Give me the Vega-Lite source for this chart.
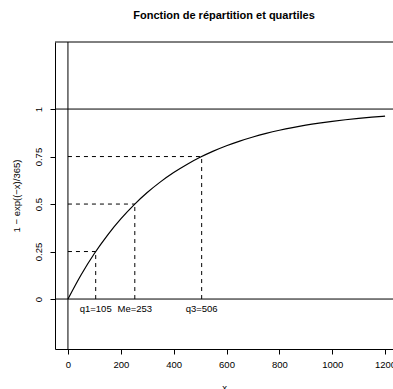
{
  "$schema": "https://vega.github.io/schema/vega-lite/v6.json",
  "width": 338,
  "height": 307,
  "autosize": {"type": "none"},
  "padding": {"left": 55, "top": 42, "right": 0, "bottom": 40},
  "background": "white",
  "title": {
    "text": "Fonction de répartition et quartiles",
    "font": "Liberation Sans",
    "fontSize": 11,
    "fontWeight": "bold",
    "color": "black",
    "anchor": "middle",
    "frame": "group",
    "offset": 21
  },
  "config": {
    "view": {"stroke": null},
    "axis": {
      "grid": false,
      "domainColor": "black",
      "tickColor": "black",
      "tickSize": 5,
      "labelFont": "Liberation Sans",
      "labelFontSize": 9.5,
      "labelColor": "black",
      "titleFont": "Liberation Sans",
      "titleFontSize": 9.5,
      "titleFontWeight": "normal",
      "titleColor": "black"
    }
  },
  "datasets": {
    "curve": [
      {"x": 0, "y": 0}, {"x": 50, "y": 0.128}, {"x": 100, "y": 0.2397}, {"x": 150, "y": 0.337},
      {"x": 200, "y": 0.4218}, {"x": 250, "y": 0.4959}, {"x": 300, "y": 0.5604}, {"x": 350, "y": 0.6167},
      {"x": 400, "y": 0.6658}, {"x": 450, "y": 0.7085}, {"x": 500, "y": 0.7459}, {"x": 550, "y": 0.7784},
      {"x": 600, "y": 0.8068}, {"x": 650, "y": 0.8315}, {"x": 700, "y": 0.8531}, {"x": 750, "y": 0.8719},
      {"x": 800, "y": 0.8883}, {"x": 850, "y": 0.9026}, {"x": 900, "y": 0.9151}, {"x": 950, "y": 0.9259},
      {"x": 1000, "y": 0.9354}, {"x": 1050, "y": 0.9437}, {"x": 1100, "y": 0.9509}, {"x": 1150, "y": 0.9572},
      {"x": 1200, "y": 0.9627}
    ],
    "dashes": [
      {"x": 0, "x2": 105, "y": 0.25, "y2": 0.25},
      {"x": 0, "x2": 253, "y": 0.5, "y2": 0.5},
      {"x": 0, "x2": 506, "y": 0.75, "y2": 0.75},
      {"x": 105, "x2": 105, "y": 0, "y2": 0.25},
      {"x": 253, "x2": 253, "y": 0, "y2": 0.5},
      {"x": 506, "x2": 506, "y": 0, "y2": 0.75}
    ],
    "labels": [
      {"x": 105, "y": -0.05, "label": "q1=105"},
      {"x": 253, "y": -0.05, "label": "Me=253"},
      {"x": 506, "y": -0.05, "label": "q3=506"}
    ]
  },
  "layer": [
    {
      "data": {"name": "curve"},
      "mark": {"type": "line", "color": "black", "strokeWidth": 1.2, "interpolate": "monotone"},
      "encoding": {
        "x": {
          "field": "x", "type": "quantitative",
          "scale": {"domain": [-49, 1230], "nice": false, "zero": false},
          "axis": {"values": [0, 200, 400, 600, 800, 1000, 1200], "format": "d", "title": "x", "labelPadding": 5, "titlePadding": 14, "labelFlush": false, "labelOverlap": false}
        },
        "y": {
          "field": "y", "type": "quantitative",
          "scale": {"domain": [-0.263, 1.353], "nice": false, "zero": false},
          "axis": {"values": [0, 0.25, 0.5, 0.75, 1], "format": ".2~f", "title": "1 − exp((−x)/365)", "labelAngle": -90, "labelAlign": "center", "labelBaseline": "bottom", "labelPadding": 7, "titlePadding": 12, "labelFlush": false, "labelOverlap": false}
        }
      }
    },
    {
      "data": {"name": "dashes"},
      "mark": {"type": "rule", "color": "black", "strokeWidth": 1, "strokeDash": [4, 4]},
      "encoding": {
        "x": {"field": "x", "type": "quantitative"},
        "x2": {"field": "x2"},
        "y": {"field": "y", "type": "quantitative"},
        "y2": {"field": "y2"}
      }
    },
    {
      "data": {"name": "labels"},
      "mark": {"type": "text", "font": "Liberation Sans", "fontSize": 9.5, "color": "black", "align": "center", "baseline": "middle"},
      "encoding": {
        "x": {"field": "x", "type": "quantitative"},
        "y": {"field": "y", "type": "quantitative"},
        "text": {"field": "label"}
      }
    },
    {
      "data": {"values": [{"v": 0}, {"v": 1}]},
      "mark": {"type": "rule", "color": "black", "strokeWidth": 1},
      "encoding": {"y": {"field": "v", "type": "quantitative"}}
    },
    {
      "data": {"values": [{"v": 0}]},
      "mark": {"type": "rule", "color": "black", "strokeWidth": 1},
      "encoding": {"x": {"field": "v", "type": "quantitative"}}
    },
    {
      "data": {"values": [{"v": 1.353}]},
      "mark": {"type": "rule", "color": "black", "strokeWidth": 1},
      "encoding": {"y": {"field": "v", "type": "quantitative"}}
    }
  ]
}
